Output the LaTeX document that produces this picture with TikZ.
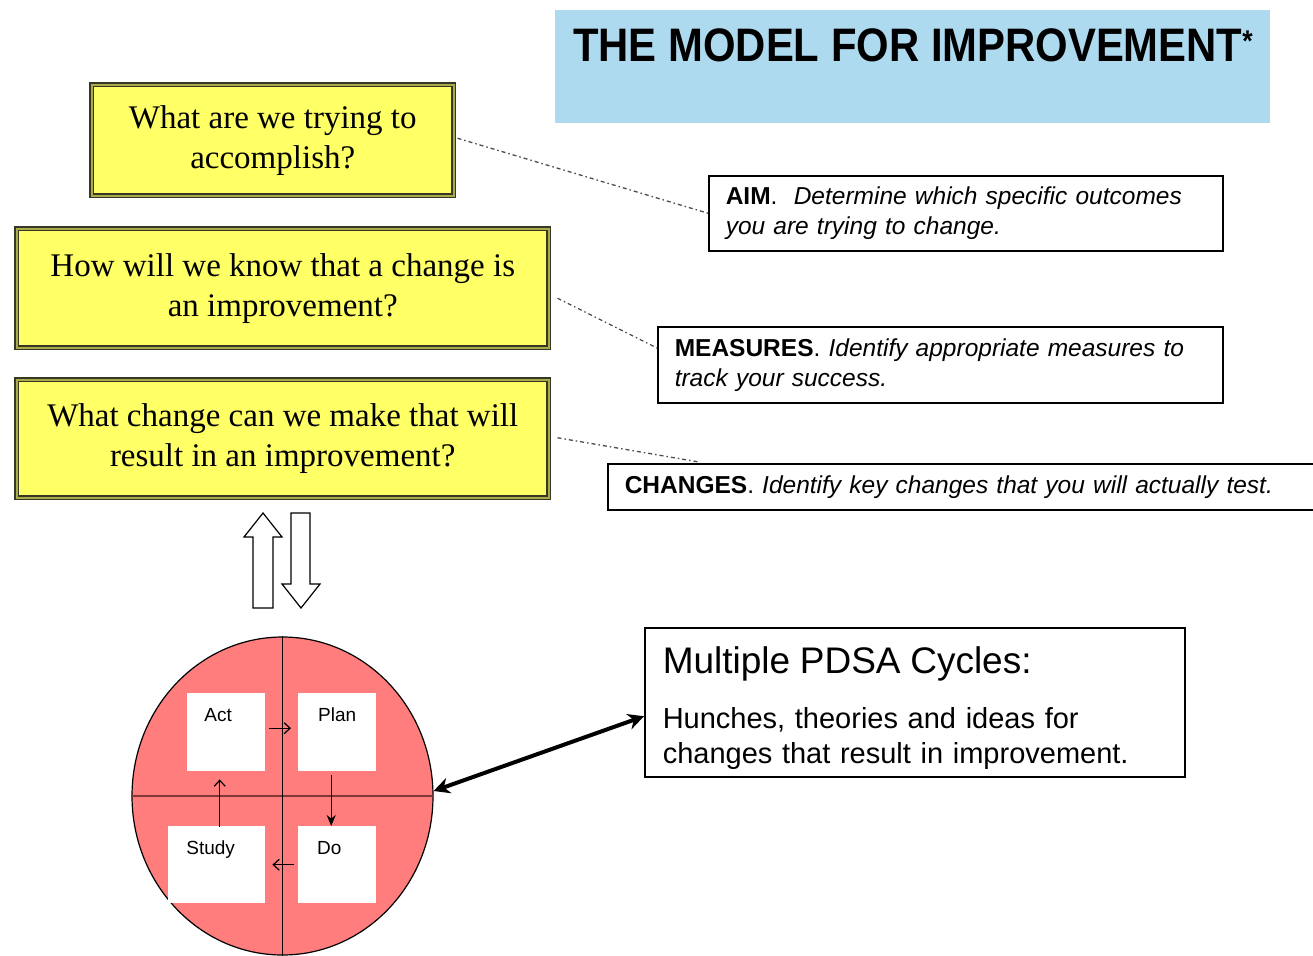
\documentclass[tikz,border=0pt]{standalone}
\usepackage{fontspec}
\setmainfont{Liberation Serif}
\setsansfont{Liberation Sans}
\usetikzlibrary{shapes.geometric,arrows.meta,calc}
\definecolor{qyellow}{RGB}{255,255,102}
\definecolor{qblue}{RGB}{174,218,240}
\definecolor{qpink}{RGB}{255,125,125}
\definecolor{qbrown}{RGB}{130,55,55}
\definecolor{qedge}{RGB}{55,55,40}
\definecolor{qband}{RGB}{170,170,70}
\tikzset{
  qbox/.style={draw=qedge, double=qband, double distance=2.2pt, line width=1.5pt,
    fill=qyellow, font=\fontsize{33}{40}\selectfont, align=center, inner sep=0pt, anchor=north west},
  infobox/.style={draw=black, line width=1.5pt, fill=white, align=left,
    font=\sffamily\fontsize{24.5}{30}\selectfont, inner xsep=17pt, inner ysep=0pt, anchor=north west},
  dashlink/.style={draw=black!70, line width=1.3pt, dash pattern=on 4pt off 3pt on 1.5pt off 3pt},
  pdsq/.style={fill=white, draw=none, inner sep=0pt, anchor=north west},
  pdlab/.style={font=\sffamily\fontsize{19}{22}\selectfont, inner sep=0pt, anchor=north},
  hollow/.style={draw=black, line width=1.2pt, fill=white, line join=miter}
}
\begin{document}
\begin{tikzpicture}[x=1pt,y=-1pt]
\useasboundingbox (0,0) rectangle (1313,955);
\clip (0,0) rectangle (1313,955);

% title
\node[fill=qblue, draw=none, minimum width=715, minimum height=113, inner sep=0pt, anchor=north west] (title) at (555,10) {};
\node[anchor=west, inner sep=0pt, font=\sffamily\bfseries] (titletext) at (573,45)
  {\scalebox{0.89}[1]{\fontsize{47}{50}\selectfont THE MODEL FOR IMPROVEMENT\raisebox{10pt}{\fontsize{30}{30}\selectfont *}}};

% questions
\node[qbox, minimum width=362, minimum height=111] (q1) at (91,84) {What are we trying to\\accomplish?};
\node[qbox, minimum width=532, minimum height=119] (q2) at (16,228) {How will we know that a change is\\an improvement?};
\node[qbox, minimum width=532, minimum height=118] (q3) at (16,379) {What change can we make that will\\result in an improvement?};

% explanations
\node[infobox, text width=480, minimum height=75] (aim) at (708,175)
  {\textbf{AIM}.\ \ \textit{Determine which specific outcomes you are trying to change.}};
\node[infobox, text width=531, minimum height=76] (meas) at (657,326)
  {\textbf{MEASURES}. \textit{Identify appropriate measures to track your success.}};
\node[infobox, text width=682, minimum height=46] (chg) at (607,463)
  {\textbf{CHANGES}. \textit{Identify key changes that you will actually test.}};

\draw[dashlink] ($(q1.east)+(3,-2)$) -- ($(aim.north west)!0.5!(aim.south west)$);
\draw[dashlink] ($(q2.east)+(8,10)$) -- ($(meas.north west)+(0,22)$);
\draw[dashlink] ($(q3.east)+(8,-1)$) -- ($(chg.north west)+(92,-1)$);

% hollow arrows
\draw[hollow] (253,608) -- (253,537) -- (244,537) -- (263,513) -- (282,537) -- (273,537) -- (273,608) -- cycle;
\draw[hollow] (291,513) -- (291,584) -- (282,584) -- (301,608) -- (320,584) -- (310,584) -- (310,513) -- cycle;

% PDSA cycle
\node[ellipse, draw=black, line width=1.2pt, fill=qpink, minimum width=301, minimum height=318, inner sep=0pt] (cyc) at (282.5,796) {};
\draw[qbrown, line width=1.5pt] (cyc.west) -- (cyc.east);
\draw[black, line width=1.5pt] (cyc.north) -- (cyc.south);

\node[pdsq, minimum width=78, minimum height=78] (act) at (187,693) {};
\node[pdsq, minimum width=78, minimum height=78] (plan) at (298,693) {};
\node[pdsq, minimum width=97, minimum height=77] (study) at (168,826) {};
\node[pdsq, minimum width=78, minimum height=77] (do) at (298,826) {};
\node[pdlab] (actl) at ($(act.north)+(-8,15)$) {Act};
\node[pdlab] (planl) at ($(plan.north)+(0,15)$) {Plan};
\node[pdlab] (studyl) at ($(study.north)+(-6,15)$) {Study};
\node[pdlab] (dol) at ($(do.north)+(-8,15)$) {Do};

\draw[line width=1.2pt, -{Straight Barb[length=6pt,width=11pt]}] ($(act.east)+(4,-4)$) -- ($(plan.west)+(-7,-4)$);
\draw[line width=1.2pt, -{Stealth[length=11pt,width=9pt]}] ($(plan.south)+(-6,4)$) -- ($(do.north)+(-6,0)$);
\draw[line width=1.2pt, -{Straight Barb[length=6pt,width=11pt]}] ($(do.west)+(-4,0)$) -- ($(study.east)+(7,0)$);
\draw[line width=1.2pt, -{Straight Barb[length=6pt,width=11pt]}] ($(study.north)+(3,1)$) -- ($(study.north |- act.south)+(3,8)$);

% PDSA description
\node[infobox, draw=black, line width=1.5pt, inner xsep=18pt, text width=504, minimum height=149,
      font=\sffamily\fontsize{29}{35}\selectfont] (pbox) at (644,627)
  {{\fontsize{37}{44}\selectfont\rule{0pt}{38pt}Multiple PDSA Cycles:}\\[20pt]
   Hunches, theories and ideas for\\changes that result in improvement.};

\draw[line width=4pt, {Stealth[length=16pt,width=16pt]}-{Stealth[length=16pt,width=16pt]}] ($(cyc.east)+(0,-5)$) -- ($(pbox.west)+(0,14)$);
\end{tikzpicture}
\end{document}
